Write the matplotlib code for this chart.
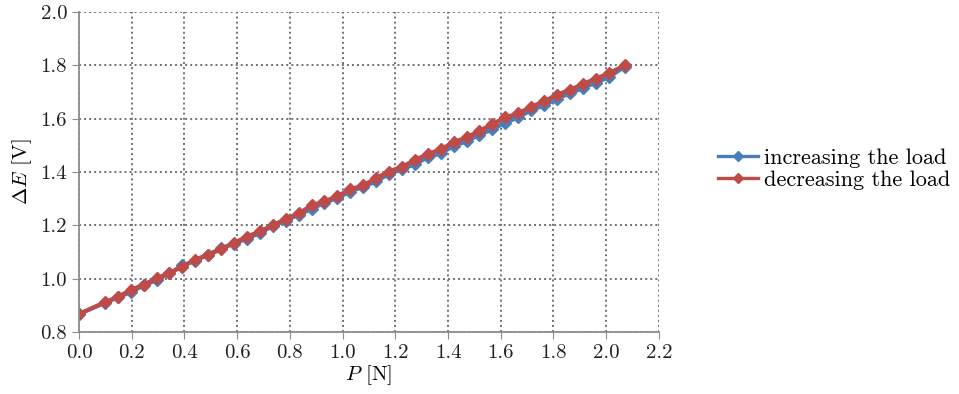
import matplotlib.pyplot as plt
import numpy as np

plt.rcParams['font.family'] = 'cmr10'
plt.rcParams['mathtext.fontset'] = 'cm'
plt.rcParams['axes.formatter.use_mathtext'] = True

# load P [N]
load = [0.0, 0.098, 0.147, 0.196, 0.245, 0.294, 0.343, 0.392, 0.441, 0.49,
        0.539, 0.588, 0.637, 0.686, 0.735, 0.784, 0.833, 0.882, 0.931, 0.98,
        1.029, 1.078, 1.127, 1.176, 1.225, 1.274, 1.323, 1.372, 1.421, 1.47,
        1.519, 1.568, 1.617, 1.666, 1.715, 1.764, 1.813, 1.862, 1.911, 1.96,
        2.009, 2.07]

# delta E [V]
e_increasing = [0.868, 0.910, 0.930, 0.950, 0.975, 0.995, 1.020, 1.050, 1.068, 1.090,
                1.115, 1.132, 1.150, 1.172, 1.198, 1.218, 1.240, 1.262, 1.285, 1.303,
                1.327, 1.345, 1.365, 1.393, 1.410, 1.430, 1.455, 1.470, 1.498, 1.515,
                1.540, 1.560, 1.585, 1.605, 1.632, 1.650, 1.675, 1.695, 1.715, 1.735,
                1.755, 1.795]
e_decreasing = [0.868, 0.912, 0.932, 0.958, 0.978, 1.002, 1.022, 1.045, 1.072, 1.090,
                1.110, 1.135, 1.158, 1.178, 1.200, 1.225, 1.245, 1.275, 1.290, 1.310,
                1.335, 1.350, 1.378, 1.402, 1.420, 1.445, 1.468, 1.485, 1.512, 1.530,
                1.555, 1.580, 1.605, 1.620, 1.645, 1.665, 1.690, 1.708, 1.730, 1.750,
                1.770, 1.800]

fig = plt.figure(figsize=(9.59, 3.94), dpi=100)
ax = fig.add_axes([0.0824, 0.157, 0.6047, 0.8125])

ax.plot(load, e_increasing, '-', color='#4a7ebb', lw=3.0, marker='D', ms=6,
        label='increasing the load')
ax.plot(load, e_decreasing, '-', color='#be4b48', lw=3.0, marker='D', ms=6,
        label='decreasing the load')

ax.set_xlim(0, 2.2)
ax.set_ylim(0.8, 2.0)
ax.set_xticks(np.arange(0, 2.21, 0.2))
ax.set_yticks(np.arange(0.8, 2.01, 0.2))
ax.xaxis.set_major_formatter(plt.FormatStrFormatter('%.1f'))
ax.yaxis.set_major_formatter(plt.FormatStrFormatter('%.1f'))
ax.grid(True, linestyle=(0, (1.0, 1.6)), color='#707070', lw=1.4)
ax.set_axisbelow(True)
for s in ['top', 'right']:
    ax.spines[s].set_visible(False)
for s in ['left', 'bottom']:
    ax.spines[s].set_color('#8c8c8c')
    ax.spines[s].set_linewidth(1.3)
ax.tick_params(direction='out', length=5, color='#8c8c8c', labelsize=15,
               labelcolor='#222222')

ax.set_xlabel(r'$P$ [N]', fontsize=15, labelpad=1)
ax.set_ylabel(r'$\Delta E$ [V]', fontsize=15, labelpad=5)

leg = ax.legend(loc='center left', bbox_to_anchor=(1.067, 0.51), frameon=False,
                fontsize=16, handlelength=1.8, handletextpad=0.3, labelspacing=0.1,
                markerscale=0.85)
for h in leg.get_lines():
    h.set_linewidth(2.4)

plt.savefig('out.png')
